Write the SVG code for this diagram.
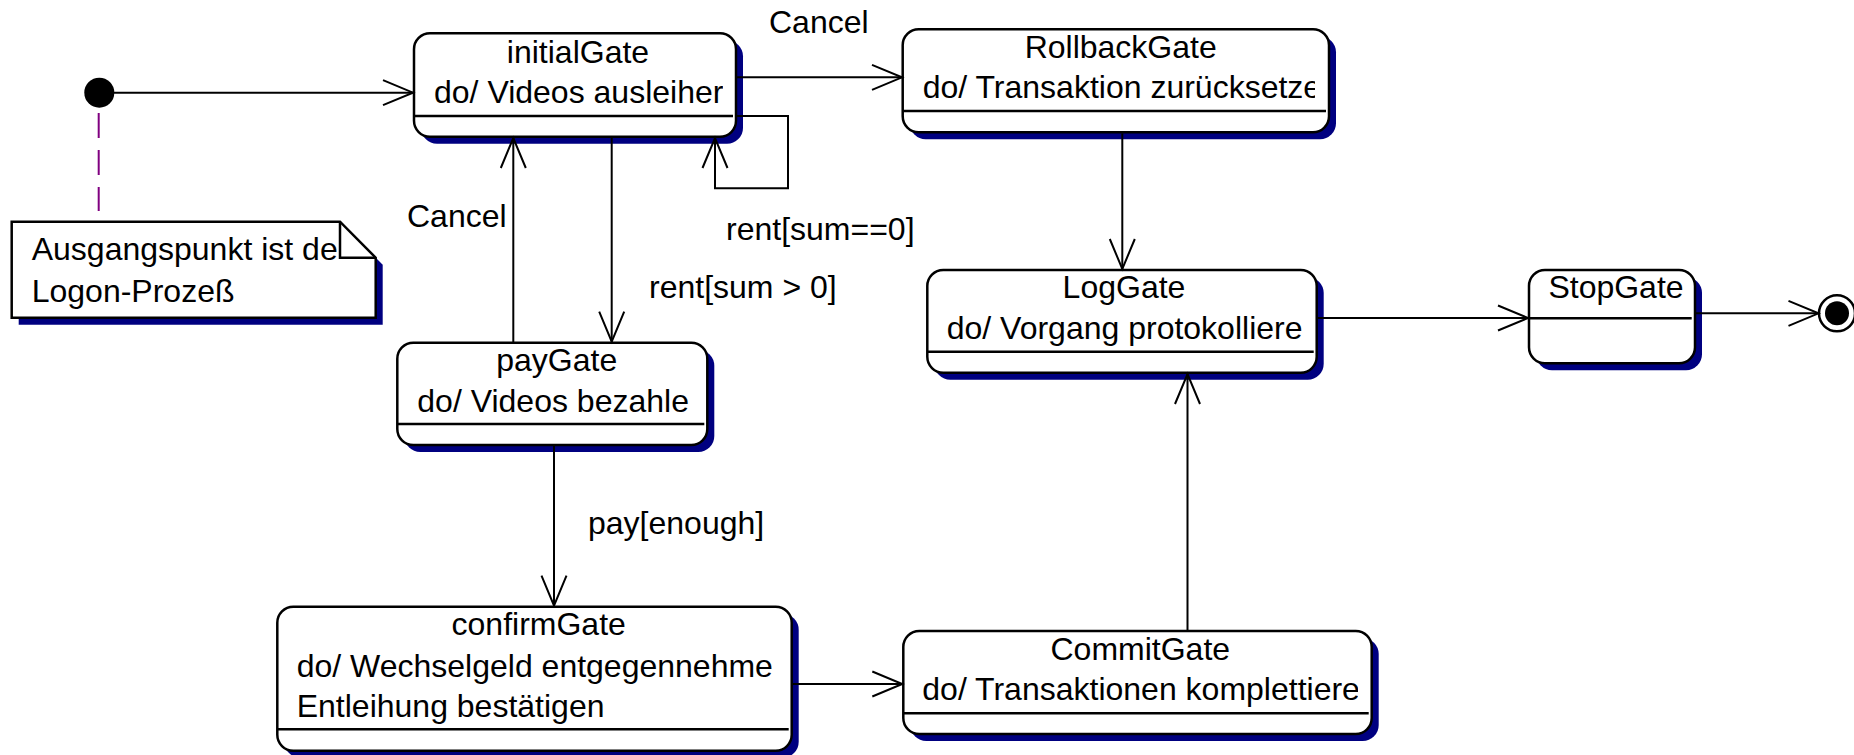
<svg xmlns="http://www.w3.org/2000/svg" width="1854" height="755" viewBox="0 0 1854 755">
<style>
  .box{fill:#fff;stroke:#000;stroke-width:2.5}
  .sh{fill:#000080;stroke:none}
  .dv{stroke:#000;stroke-width:2.5;fill:none}
  .edge{fill:none;stroke:#000;stroke-width:2}
  .arr{marker-end:url(#open)}
  text{font-family:"Liberation Sans",Arial,Helvetica,sans-serif;font-size:32px;fill:#000}
  .c{text-anchor:middle}
</style>
<defs>
  <marker id="open" markerUnits="userSpaceOnUse" markerWidth="34" markerHeight="30" refX="30" refY="12.5" orient="auto" overflow="visible">
    <path d="M0,0 L30,12.5 L0,25" fill="none" stroke="#000" stroke-width="2"/>
  </marker>
  <clipPath id="cpInitial"><rect x="414" y="33" width="309" height="104"/></clipPath>
  <clipPath id="cpRollback"><rect x="902" y="29" width="413" height="104"/></clipPath>
  <clipPath id="cpLog"><rect x="927" y="270" width="377" height="103"/></clipPath>
  <clipPath id="cpPay"><rect x="397" y="342" width="297" height="103"/></clipPath>
  <clipPath id="cpConfirm"><rect x="277" y="606" width="500" height="145"/></clipPath>
  <clipPath id="cpCommit"><rect x="903" y="631" width="455" height="103"/></clipPath>
</defs>

<g id="initial">
  <circle cx="99.3" cy="92.7" r="15" fill="#000"/>
</g>

<g id="note">
  <line x1="98.7" y1="113" x2="98.7" y2="211" stroke="#800080" stroke-width="2" stroke-dasharray="25 12"/>
  <path class="sh" d="M18.7,228.7 H347 L382.7,264.7 V324.7 H18.7 Z"/>
  <path class="box" d="M11.7,221.7 H340 L375.7,257.7 V317.7 H11.7 Z"/>
  <path class="dv" d="M340,221.7 V257.7 H375.7"/>
  <text x="31.7" y="260">Ausgangspunkt ist de</text>
  <text x="31.7" y="301.7">Logon-Prozeß</text>
</g>

<g id="initialGate">
  <rect class="sh" x="421" y="40.3" width="322" height="103.4" rx="16"/>
  <rect class="box" x="414" y="33.3" width="322" height="103.4" rx="16"/>
  <path class="dv" d="M414,116 H733"/>
  <g clip-path="url(#cpInitial)">
    <text class="c" x="578" y="62.7">initialGate</text>
    <text x="434" y="103.3">do/ Videos ausleiher</text>
  </g>
</g>

<g id="RollbackGate">
  <rect class="sh" x="909.7" y="36.3" width="426.3" height="103" rx="16"/>
  <rect class="box" x="902.7" y="29.3" width="426.3" height="103" rx="16"/>
  <path class="dv" d="M902.7,111 H1326"/>
  <g clip-path="url(#cpRollback)">
    <text class="c" x="1120.7" y="58.3">RollbackGate</text>
    <text x="922.7" y="98.3">do/ Transaktion zurücksetze</text>
  </g>
</g>

<g id="LogGate">
  <rect class="sh" x="934.3" y="277" width="389.4" height="102.7" rx="16"/>
  <rect class="box" x="927.3" y="270" width="389.4" height="102.7" rx="16"/>
  <path class="dv" d="M927.3,351.7 H1313.7"/>
  <g clip-path="url(#cpLog)">
    <text class="c" x="1124" y="298.3">LogGate</text>
    <text x="946.7" y="339.3">do/ Vorgang protokolliere</text>
  </g>
</g>

<g id="StopGate">
  <rect class="sh" x="1536" y="277" width="166" height="93.3" rx="16"/>
  <rect class="box" x="1529" y="270" width="166" height="93.3" rx="16"/>
  <path class="dv" d="M1529,318.3 H1691.7"/>
  <text class="c" x="1616" y="298.3">StopGate</text>
</g>

<g id="payGate">
  <rect class="sh" x="404.3" y="349.7" width="310" height="102.3" rx="16"/>
  <rect class="box" x="397.3" y="342.7" width="310" height="102.3" rx="16"/>
  <path class="dv" d="M397.3,424 H704.3"/>
  <g clip-path="url(#cpPay)">
    <text class="c" x="556.7" y="371">payGate</text>
    <text x="417.3" y="411.7">do/ Videos bezahle</text>
  </g>
</g>

<g id="confirmGate">
  <rect class="sh" x="284.3" y="613.7" width="514.4" height="144" rx="16"/>
  <rect class="box" x="277.3" y="606.7" width="514.4" height="144" rx="16"/>
  <path class="dv" d="M277.3,729.3 H788.7"/>
  <g clip-path="url(#cpConfirm)">
    <text class="c" x="538.7" y="635">confirmGate</text>
    <text x="296.7" y="676.7">do/ Wechselgeld entgegennehme</text>
    <text x="296.7" y="717.3">Entleihung bestätigen</text>
  </g>
</g>

<g id="CommitGate">
  <rect class="sh" x="910.3" y="638" width="468.4" height="103" rx="16"/>
  <rect class="box" x="903.3" y="631" width="468.4" height="103" rx="16"/>
  <path class="dv" d="M903.3,713.3 H1368.7"/>
  <g clip-path="url(#cpCommit)">
    <text class="c" x="1140.3" y="660">CommitGate</text>
    <text x="922.3" y="700">do/ Transaktionen komplettiere</text>
  </g>
</g>

<g id="final">
  <circle cx="1837" cy="313.3" r="18" fill="#fff" stroke="#000" stroke-width="2.5"/>
  <circle cx="1837" cy="313.3" r="12" fill="#000"/>
</g>

<g id="connectors">
  <path class="edge arr" d="M114,92.7 H413"/>
  <path class="edge arr" d="M737,77.3 H902"/>
  <text x="769" y="33.3">Cancel</text>
  <path class="edge arr" d="M737,116 H788 V188.3 H715 V138"/>
  <text x="726" y="240">rent[sum==0]</text>
  <path class="edge arr" d="M611.7,138 V341.7"/>
  <text x="649" y="297.7">rent[sum &gt; 0]</text>
  <path class="edge arr" d="M513.3,342.7 V138"/>
  <text x="407" y="226.7">Cancel</text>
  <path class="edge arr" d="M554,446 V605.7"/>
  <text x="588" y="534">pay[enough]</text>
  <path class="edge arr" d="M792.7,684 H902.3"/>
  <path class="edge arr" d="M1187.5,631 V374"/>
  <path class="edge arr" d="M1122.3,133.3 V269"/>
  <path class="edge arr" d="M1318,318 H1528"/>
  <path class="edge arr" d="M1696,313.3 H1818.5"/>
</g>
</svg>
